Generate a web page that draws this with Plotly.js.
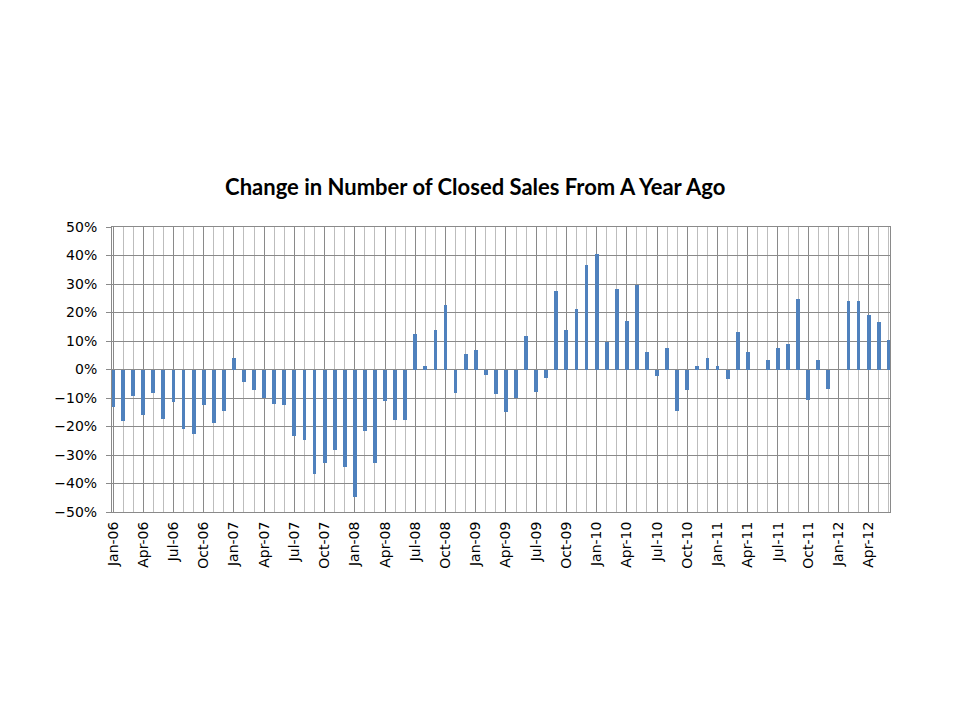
<!DOCTYPE html>
<html>
<head>
<meta charset="utf-8">
<script src="https://cdn.plot.ly/plotly-3.0.1.min.js"></script>
<style>html,body{margin:0;padding:0;background:#fff;}#chart{width:960px;height:720px;}</style>
</head>
<body>
<div id="chart"></div>
<script>
const months = [
  "Jan-06","Feb-06","Mar-06","Apr-06","May-06","Jun-06","Jul-06","Aug-06","Sep-06","Oct-06","Nov-06","Dec-06",
  "Jan-07","Feb-07","Mar-07","Apr-07","May-07","Jun-07","Jul-07","Aug-07","Sep-07","Oct-07","Nov-07","Dec-07",
  "Jan-08","Feb-08","Mar-08","Apr-08","May-08","Jun-08","Jul-08","Aug-08","Sep-08","Oct-08","Nov-08","Dec-08",
  "Jan-09","Feb-09","Mar-09","Apr-09","May-09","Jun-09","Jul-09","Aug-09","Sep-09","Oct-09","Nov-09","Dec-09",
  "Jan-10","Feb-10","Mar-10","Apr-10","May-10","Jun-10","Jul-10","Aug-10","Sep-10","Oct-10","Nov-10","Dec-10",
  "Jan-11","Feb-11","Mar-11","Apr-11","May-11","Jun-11","Jul-11","Aug-11","Sep-11","Oct-11","Nov-11","Dec-11",
  "Jan-12","Feb-12","Mar-12","Apr-12","May-12","Jun-12"
];
// Percent change from a year ago
const changePct = [
  -13.2, -18.2, -9.4, -16.0, -8.3, -17.4, -11.5, -20.9, -22.6, -12.4, -18.8, -14.7,
  4.0, -4.4, -7.3, -10.1, -12.2, -12.5, -23.2, -24.6, -36.8, -32.9, -28.4, -34.3,
  -44.8, -21.6, -32.9, -11.0, -17.7, -17.7, 12.3, 1.2, 13.7, 22.8, -8.3, 5.6,
  7.0, -1.9, -8.7, -15.0, -9.9, 11.6, -8.0, -3.0, 27.5, 13.8, 21.1, 36.5,
  40.4, 9.8, 28.4, 17.0, 29.8, 6.3, -2.3, 7.7, -14.6, -7.3, 1.3, 3.9,
  1.4, -3.4, 13.3, 6.0, null, 3.2, 7.4, 8.8, 24.9, -10.8, 3.2, -6.9,
  null, 24.2, 23.9, 19.3, 16.8, 10.5
];
const labelEvery = 3;

const xIdx = months.map((m, i) => i);
const tickVals = xIdx.filter(i => i % labelEvery === 0);
const tickText = tickVals.map(i => months[i]);

const trace = {
  type: 'bar',
  x: xIdx,
  y: changePct,
  width: 0.38,
  marker: {color: '#4F81BD', line: {width: 0}},
  hovertext: months,
  hoverinfo: 'text+y'
};

const layout = {
  width: 960, height: 720,
  paper_bgcolor: '#ffffff', plot_bgcolor: '#ffffff',
  margin: {l: 112, r: 70, t: 227, b: 208, pad: 0},
  showlegend: false,
  title: {
    text: 'Change in Number of Closed Sales From A Year Ago',
    font: {family: 'Lato, "Open Sans", sans-serif', size: 22, color: '#000', weight: 'bold'},
    x: 0.495, xanchor: 'center', y: 0.74, yanchor: 'middle'
  },
  xaxis: {
    range: [-0.1, 77.12],
    tickmode: 'array', tickvals: tickVals, ticktext: tickText,
    tickangle: -90,
    tickfont: {family: '"DejaVu Sans", Verdana, sans-serif', size: 14, color: '#000'},
    ticklabelstandoff: 3,
    showgrid: true, gridcolor: '#8a8a8a', gridwidth: 1,
    minor: {tickmode: 'linear', tick0: 0, dtick: 1, showgrid: true, gridcolor: '#bdbdbd', gridwidth: 1, ticks: ''},
    showline: true, linecolor: '#8a8a8a', linewidth: 1, mirror: true,
    ticks: '', zeroline: false, fixedrange: true
  },
  yaxis: {
    range: [-50, 50], dtick: 10, tick0: 0,
    ticksuffix: '%',
    tickfont: {family: '"DejaVu Sans", Verdana, sans-serif', size: 14, color: '#000'},
    ticklabelstandoff: 6,
    showgrid: true, gridcolor: '#8a8a8a', gridwidth: 1,
    showline: true, linecolor: '#8a8a8a', linewidth: 1, mirror: true,
    ticks: 'outside', ticklen: 5, tickcolor: '#8a8a8a',
    zeroline: false, fixedrange: true
  },
  bargap: 0
};

Plotly.newPlot('chart', [trace], layout, {displayModeBar: false, staticPlot: true});
</script>
</body>
</html>
